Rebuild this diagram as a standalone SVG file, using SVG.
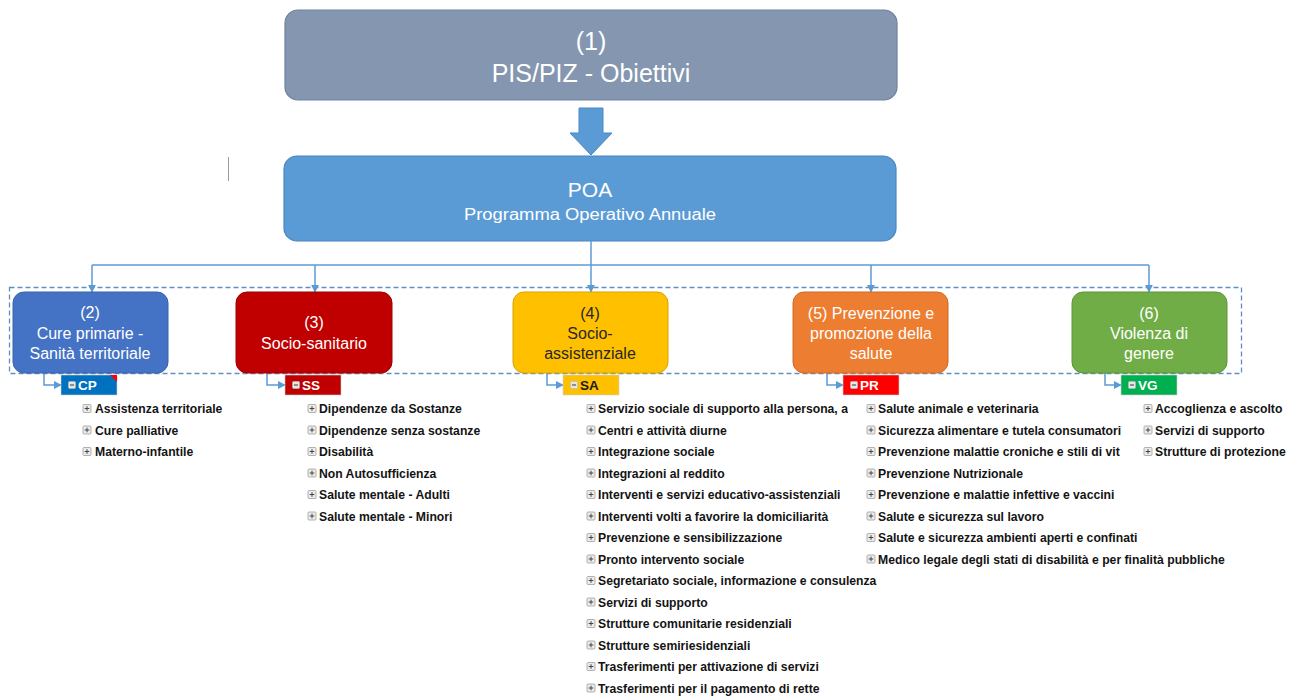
<svg xmlns="http://www.w3.org/2000/svg" width="1301" height="697" viewBox="0 0 1301 697">
<style>
.big{font-family:"Liberation Sans",Arial,sans-serif;fill:#fff;text-anchor:middle}
.bt{font-family:"Liberation Sans",Arial,sans-serif;font-size:16px;fill:#fff;text-anchor:middle}
.dk{fill:#262626}
.tag{font-family:"Liberation Sans",Arial,sans-serif;font-size:13.5px;font-weight:bold;fill:#fff}
.it{font-family:"Liberation Sans",Arial,sans-serif;font-size:12.2px;font-weight:bold;fill:#141414}
.conn{fill:none;stroke:#5B9BD5;stroke-width:1.5}
.pb{fill:#ececec;stroke:#a0a0a0;stroke-width:0.8}
.pl{stroke:#444;stroke-width:1}
.mb{fill:#e6e6e6;stroke:#bbb;stroke-width:0.6}
</style>
<defs>
<marker id="ah" viewBox="0 0 10 10" refX="9" refY="5" markerWidth="8" markerHeight="8" markerUnits="userSpaceOnUse" orient="auto">
<path d="M0,0 L10,5 L0,10 z" fill="#5B9BD5"/>
</marker>
<g id="plus"><rect class="pb" x="-4" y="-4" width="8" height="8" rx="1"/><path class="pl" d="M-2.3,0 H2.3 M0,-2.3 V2.3"/></g>
<g id="minus"><rect class="mb" x="-3.5" y="-3.5" width="7" height="7" rx="1"/><path d="M-2,0 H2" stroke="#555" stroke-width="1.2"/></g>
<clipPath id="clipSA"><rect x="580" y="395" width="268" height="20"/></clipPath>
<clipPath id="clipPR"><rect x="860" y="440" width="262" height="20"/></clipPath>
</defs>
<rect width="1301" height="697" fill="#fff"/>
<line x1="228.5" y1="157" x2="228.5" y2="181" stroke="#9a9a9a" stroke-width="1"/>

<g id="node-pis">
<rect x="285" y="10" width="612" height="90" rx="13" fill="#8496B0" stroke="#70819c" stroke-width="1.2"/>
<text class="big" x="591" y="50" font-size="25">(1)</text>
<text class="big" x="591" y="82" font-size="25">PIS/PIZ - Obiettivi</text>
</g>

<g id="block-arrow">
<path d="M579,108 H603 V133 H612 L591,155 L570,133 H579 Z" fill="#5B9BD5" stroke="#4a88c4" stroke-width="1"/>
</g>

<g id="node-poa">
<rect x="284" y="156" width="612" height="85" rx="13" fill="#5B9BD5" stroke="#4a86c0" stroke-width="1.2"/>
<text class="big" x="590" y="197" font-size="21">POA</text>
<text class="big" x="590" y="220" font-size="16" textLength="252" lengthAdjust="spacingAndGlyphs">Programma Operativo Annuale</text>
</g>

<g id="group-frame">
<rect x="9.5" y="287.5" width="1232" height="86" fill="none" stroke="#5f8ec2" stroke-width="1.3" stroke-dasharray="5 3"/>
</g>

<g id="connectors">
<path class="conn" d="M591,241 V265"/>
<path class="conn" d="M92,265 H1149"/>
<path class="conn" d="M92,265 V292" marker-end="url(#ah)"/>
<path class="conn" d="M315,265 V292" marker-end="url(#ah)"/>
<path class="conn" d="M591,265 V292" marker-end="url(#ah)"/>
<path class="conn" d="M871,265 V292" marker-end="url(#ah)"/>
<path class="conn" d="M1149,265 V292" marker-end="url(#ah)"/>
<path class="conn" d="M44,373 V385 H61" marker-end="url(#ah)"/>
<path class="conn" d="M267,373 V385 H285" marker-end="url(#ah)"/>
<path class="conn" d="M547,373 V385 H563" marker-end="url(#ah)"/>
<path class="conn" d="M827,373 V385 H843" marker-end="url(#ah)"/>
<path class="conn" d="M1105,373 V385 H1121" marker-end="url(#ah)"/>
</g>

<g id="node-cp-box">
<rect x="13" y="292" width="155" height="81" rx="11" fill="#4472C4" stroke="#3a62a8" stroke-width="1"/>
<text class="bt" x="90" y="318">(2)</text>
<text class="bt" x="90" y="339">Cure primarie -</text>
<text class="bt" x="90" y="359">Sanità territoriale</text>
</g>
<g id="node-ss-box">
<rect x="236" y="292" width="156" height="81" rx="11" fill="#C00000" stroke="#a00000" stroke-width="1"/>
<text class="bt" x="314" y="328">(3)</text>
<text class="bt" x="314" y="349">Socio-sanitario</text>
</g>
<g id="node-sa-box">
<rect x="513" y="292" width="155" height="81" rx="11" fill="#FFC000" stroke="#d9a400" stroke-width="1"/>
<text class="bt dk" x="590" y="319">(4)</text>
<text class="bt dk" x="590" y="339">Socio-</text>
<text class="bt dk" x="590" y="359">assistenziale</text>
</g>
<g id="node-pr-box">
<rect x="793" y="292" width="155" height="81" rx="11" fill="#ED7D31" stroke="#cf6a26" stroke-width="1"/>
<text class="bt" x="871" y="319">(5) Prevenzione e</text>
<text class="bt" x="871" y="339">promozione della</text>
<text class="bt" x="871" y="359">salute</text>
</g>
<g id="node-vg-box">
<rect x="1072" y="292" width="155" height="81" rx="11" fill="#70AD47" stroke="#5e9439" stroke-width="1"/>
<text class="bt" x="1149" y="319">(6)</text>
<text class="bt" x="1149" y="339">Violenza di</text>
<text class="bt" x="1149" y="359">genere</text>
</g>

<g id="tag-cp">
<rect x="61" y="375" width="56" height="20" fill="#0070C0" stroke="#d0d0d0" stroke-width="0.6"/>
<polygon points="110,375 117,375 117,382" fill="#ff0000"/>
<use href="#minus" x="72" y="385"/>
<text class="tag" x="78" y="390">CP</text>
</g>
<g id="tag-ss">
<rect x="285" y="375" width="56" height="20" fill="#C00000" stroke="#d0d0d0" stroke-width="0.6"/>
<use href="#minus" x="296" y="385"/>
<text class="tag" x="302" y="390">SS</text>
</g>
<g id="tag-sa">
<rect x="563" y="375" width="56" height="20" fill="#FFC000" stroke="#d0d0d0" stroke-width="0.6"/>
<use href="#minus" x="574" y="385"/>
<text class="tag" x="580" y="390" style="fill:#1a1a1a">SA</text>
</g>
<g id="tag-pr">
<rect x="843" y="375" width="56" height="20" fill="#FF0000" stroke="#d0d0d0" stroke-width="0.6"/>
<use href="#minus" x="854" y="385"/>
<text class="tag" x="860" y="390">PR</text>
</g>
<g id="tag-vg">
<rect x="1121" y="375" width="56" height="20" fill="#00B050" stroke="#d0d0d0" stroke-width="0.6"/>
<use href="#minus" x="1132" y="385"/>
<text class="tag" x="1138" y="390">VG</text>
</g>

<g id="list-cp">
<use href="#plus" x="87" y="408.5"/><text class="it" x="95" y="413">Assistenza territoriale</text>
<use href="#plus" x="87" y="430"/><text class="it" x="95" y="434.5">Cure palliative</text>
<use href="#plus" x="87" y="451.5"/><text class="it" x="95" y="456">Materno-infantile</text>
</g>

<g id="list-ss">
<use href="#plus" x="312" y="408.5"/><text class="it" x="319" y="413">Dipendenze da Sostanze</text>
<use href="#plus" x="312" y="430"/><text class="it" x="319" y="434.5">Dipendenze senza sostanze</text>
<use href="#plus" x="312" y="451.5"/><text class="it" x="319" y="456">Disabilità</text>
<use href="#plus" x="312" y="473"/><text class="it" x="319" y="477.5">Non Autosufficienza</text>
<use href="#plus" x="312" y="494.5"/><text class="it" x="319" y="499">Salute mentale - Adulti</text>
<use href="#plus" x="312" y="516"/><text class="it" x="319" y="520.5">Salute mentale - Minori</text>
</g>

<g id="list-sa">
<use href="#plus" x="591" y="408.5"/><text class="it" x="598" y="413" clip-path="url(#clipSA)">Servizio sociale di supporto alla persona, a</text>
<use href="#plus" x="591" y="430"/><text class="it" x="598" y="434.5">Centri e attività diurne</text>
<use href="#plus" x="591" y="451.5"/><text class="it" x="598" y="456">Integrazione sociale</text>
<use href="#plus" x="591" y="473"/><text class="it" x="598" y="477.5">Integrazioni al reddito</text>
<use href="#plus" x="591" y="494.5"/><text class="it" x="598" y="499">Interventi e servizi educativo-assistenziali</text>
<use href="#plus" x="591" y="516"/><text class="it" x="598" y="520.5">Interventi volti a favorire la domiciliarità</text>
<use href="#plus" x="591" y="537.5"/><text class="it" x="598" y="542">Prevenzione e sensibilizzazione</text>
<use href="#plus" x="591" y="559"/><text class="it" x="598" y="563.5">Pronto intervento sociale</text>
<use href="#plus" x="591" y="580.5"/><text class="it" x="598" y="585">Segretariato sociale, informazione e consulenza</text>
<use href="#plus" x="591" y="602"/><text class="it" x="598" y="606.5">Servizi di supporto</text>
<use href="#plus" x="591" y="623.5"/><text class="it" x="598" y="628">Strutture comunitarie residenziali</text>
<use href="#plus" x="591" y="645"/><text class="it" x="598" y="649.5">Strutture semiriesidenziali</text>
<use href="#plus" x="591" y="666.5"/><text class="it" x="598" y="671">Trasferimenti per attivazione di servizi</text>
<use href="#plus" x="591" y="688"/><text class="it" x="598" y="692.5">Trasferimenti per il pagamento di rette</text>
</g>

<g id="list-pr">
<use href="#plus" x="871" y="408.5"/><text class="it" x="878" y="413">Salute animale e veterinaria</text>
<use href="#plus" x="871" y="430"/><text class="it" x="878" y="434.5">Sicurezza alimentare e tutela consumatori</text>
<use href="#plus" x="871" y="451.5"/><text class="it" x="878" y="456" clip-path="url(#clipPR)">Prevenzione malattie croniche e stili di vit</text>
<use href="#plus" x="871" y="473"/><text class="it" x="878" y="477.5">Prevenzione Nutrizionale</text>
<use href="#plus" x="871" y="494.5"/><text class="it" x="878" y="499">Prevenzione e malattie infettive e vaccini</text>
<use href="#plus" x="871" y="516"/><text class="it" x="878" y="520.5">Salute e sicurezza sul lavoro</text>
<use href="#plus" x="871" y="537.5"/><text class="it" x="878" y="542">Salute e sicurezza ambienti aperti e confinati</text>
<use href="#plus" x="871" y="559"/><text class="it" x="878" y="563.5">Medico legale degli stati di disabilità e per finalità pubbliche</text>
</g>

<g id="list-vg">
<use href="#plus" x="1148" y="408.5"/><text class="it" x="1155" y="413">Accoglienza e ascolto</text>
<use href="#plus" x="1148" y="430"/><text class="it" x="1155" y="434.5">Servizi di supporto</text>
<use href="#plus" x="1148" y="451.5"/><text class="it" x="1155" y="456">Strutture di protezione</text>
</g>
</svg>
